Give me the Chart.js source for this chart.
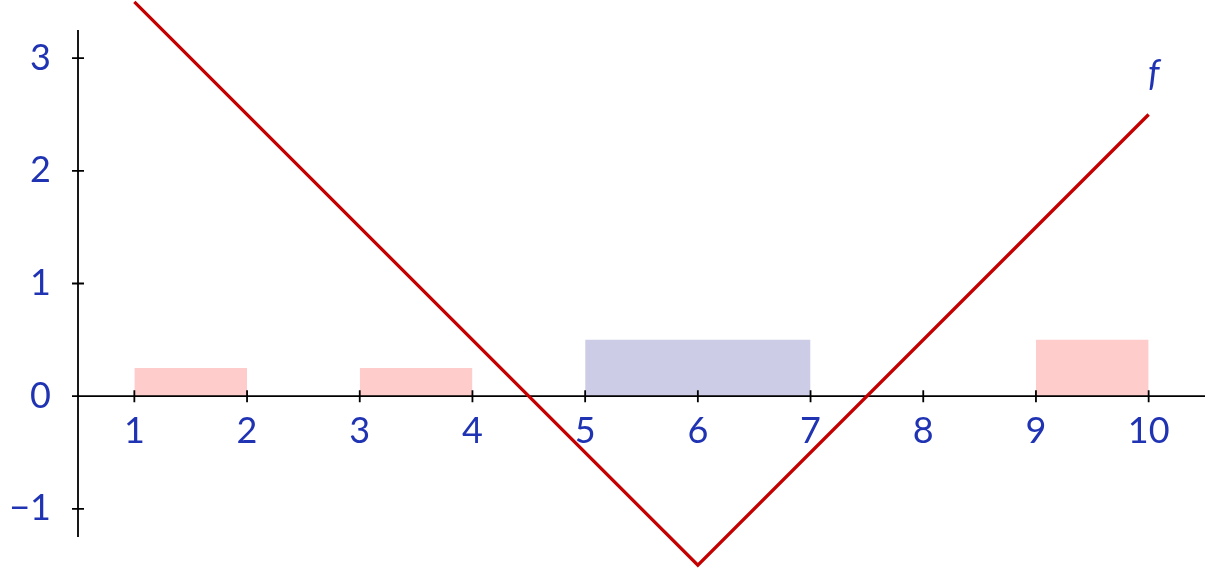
<!DOCTYPE html>
<html>
<head>
<meta charset="utf-8">
<script src="https://cdn.jsdelivr.net/npm/chart.js@4/dist/chart.umd.min.js"></script>
<style>
  body { margin: 0; background: #fff; }
  #wrap { width: 1205px; height: 568px; }
</style>
</head>
<body>
<div id="wrap"><canvas id="plot" width="1205" height="568"></canvas></div>
<script>
// data
let fX = [1, 6, 10];
let fY = [3.5, -1.5, 2.5];

let barStart = [1, 3, 5, 9];
let barEnd = [2, 4, 7, 10];
let barHeight = [0.25, 0.25, 0.5, 0.5];
let barColor = ["#ffcccc", "#ffcccc", "#ccccE6", "#ffcccc"];

let xTicks = [1, 2, 3, 4, 5, 6, 7, 8, 9, 10];
let yTicks = [-1, 0, 1, 2, 3];
let yTickLabels = ["\u22121", "0", "1", "2", "3"];

let textBlue = "#1f33b3";
let fontFam = "Lato, 'DejaVu Sans', sans-serif";

// line f goes first so it is drawn on top
let datasets = [
  {
    label: "f",
    data: fX.map((x, i) => ({ x: x, y: fY[i] })),
    borderColor: "#c40000",
    borderWidth: 3.3,
    pointRadius: 0,
    fill: false,
    clip: false,
    tension: 0,
  },
];

barStart.forEach((s, i) => {
  datasets.push({
    label: "bar" + i,
    data: [
      { x: s, y: barHeight[i] },
      { x: barEnd[i], y: barHeight[i] },
    ],
    borderWidth: 0,
    pointRadius: 0,
    backgroundColor: barColor[i],
    fill: "origin",
  });
});

// axis lines in the middle + tick labels
let axesPlugin = {
  id: "midAxes",
  beforeDatasetDraw(chart, args) {
    if (args.index !== 0) return;
    let ctx = chart.ctx;
    let xs = chart.scales.x;
    let ys = chart.scales.y;
    let area = chart.chartArea;
    let x0 = xs.getPixelForValue(0.5);
    let y0 = ys.getPixelForValue(0);

    ctx.save();
    ctx.strokeStyle = "#000";
    ctx.lineWidth = 1.8;
    ctx.beginPath();
    ctx.moveTo(area.left, y0);
    ctx.lineTo(area.right, y0);
    ctx.moveTo(x0, area.top);
    ctx.lineTo(x0, area.bottom);
    xTicks.forEach((t) => {
      let px = xs.getPixelForValue(t);
      ctx.moveTo(px, y0 - 6);
      ctx.lineTo(px, y0 + 6);
    });
    yTicks.forEach((t) => {
      let py = ys.getPixelForValue(t);
      ctx.moveTo(x0 - 6, py);
      ctx.lineTo(x0 + 6, py);
    });
    ctx.stroke();

    ctx.fillStyle = textBlue;
    ctx.font = "36px " + fontFam;
    ctx.textBaseline = "middle";
    ctx.textAlign = "center";
    xTicks.forEach((t) => {
      ctx.fillText(String(t), xs.getPixelForValue(t), y0 + 35);
    });
    ctx.textAlign = "right";
    yTicks.forEach((t, i) => {
      ctx.fillText(yTickLabels[i], x0 - 27, ys.getPixelForValue(t));
    });

    ctx.font = "italic 36px " + fontFam;
    ctx.textAlign = "center";
    ctx.fillText("f", xs.getPixelForValue(10) + 5, ys.getPixelForValue(2.5) - 40);
    ctx.restore();
  },
};

new Chart(document.getElementById("plot"), {
  type: "line",
  data: { datasets: datasets },
  options: {
    responsive: false,
    animation: false,
    events: [],
    layout: {
      padding: { left: 78, right: 0, top: 30, bottom: 31 },
    },
    plugins: {
      legend: { display: false },
      tooltip: { enabled: false },
    },
    scales: {
      x: { type: "linear", min: 0.5, max: 10.5, display: false },
      y: { type: "linear", min: -1.25, max: 3.25, display: false },
    },
  },
  plugins: [axesPlugin],
});
</script>
</body>
</html>
